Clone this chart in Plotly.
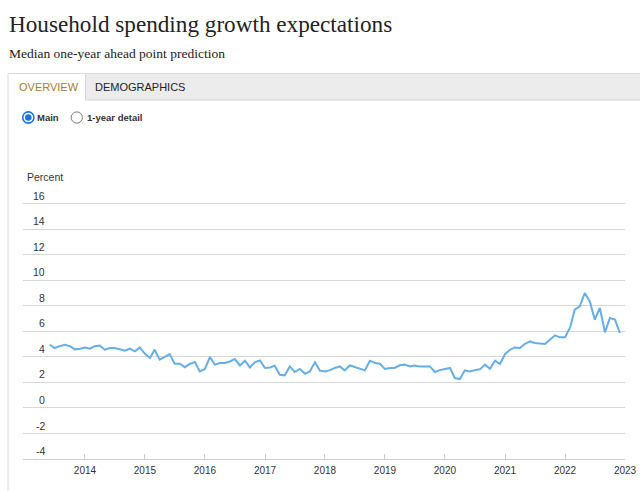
import pandas as pd
import plotly.graph_objects as go

# ---- data ----
start_month = "2013-06-01"
spending = [
    4.96, 4.70, 4.85, 4.96, 4.85, 4.60, 4.65,            # Jun-Dec 2013
    4.75, 4.65, 4.85, 4.90, 4.57, 4.70, 4.70, 4.60, 4.50, 4.65, 4.44, 4.75,   # 2014
    4.25, 3.92, 4.57, 3.79, 4.00, 4.23, 3.47, 3.47, 3.20, 3.45, 3.60, 2.87,   # 2015
    3.06, 4.00, 3.40, 3.53, 3.53, 3.65, 3.84, 3.34, 3.71, 3.18, 3.60, 3.73,   # 2016
    3.14, 3.18, 3.32, 2.61, 2.56, 3.26, 2.82, 3.06, 2.69, 2.87, 3.58, 2.93,   # 2017
    2.87, 2.97, 3.14, 3.26, 2.95, 3.34, 3.22, 3.10, 2.95, 3.71, 3.53, 3.47,   # 2018
    3.06, 3.14, 3.14, 3.35, 3.40, 3.26, 3.34, 3.26, 3.26, 3.26, 2.82, 2.97,   # 2019
    3.06, 3.14, 2.35, 2.27, 2.95, 2.87, 2.97, 3.03, 3.40, 3.08, 3.71, 3.45,   # 2020
    4.24, 4.57, 4.75, 4.70, 5.02, 5.22, 5.10, 5.05, 5.02, 5.36, 5.70, 5.54,   # 2021
    5.54, 6.32, 7.71, 7.97, 9.02, 8.36, 6.93, 7.84, 5.93, 7.06, 6.93, 5.88,   # 2022
]
months = pd.date_range(start_month, periods=len(spending), freq="MS")

y_ticks = [-4, -2, 0, 2, 4, 6, 8, 10, 12, 14, 16]
x_tick_years = [2014, 2015, 2016, 2017, 2018, 2019, 2020, 2021, 2022, 2023]
x_tick_dates = [f"{y}-01-01" for y in x_tick_years]
x_tick_text = [str(y) for y in x_tick_years]

title_text = "Household spending growth expectations"
subtitle_text = "Median one-year ahead point prediction"
tab_labels = ["OVERVIEW", "DEMOGRAPHICS"]
radio_labels = ["Main", "1-year detail"]
y_title = "Percent"

# ---- layout geometry (pixels) ----
W, H = 640, 491
ML, MR, MT, MB = 23, 15, 199, 32
PW = W - ML - MR
PH = H - MT - MB


def px(xp):
    return (xp - ML) / PW


def py(yp):
    return (H - MB - yp) / PH


SANS = "Liberation Sans, Arial, sans-serif"
SERIF = "Liberation Serif, Times New Roman, serif"

fig = go.Figure()
fig.add_trace(go.Scatter(
    x=months, y=spending, mode="lines",
    line=dict(color="#66aee6", width=2),
    hoverinfo="x+y", showlegend=False,
))

shapes = []
# tab bar background
shapes.append(dict(type="rect", xref="paper", yref="paper",
                   x0=px(85), x1=px(640), y0=py(100), y1=py(73),
                   fillcolor="#ececec", line=dict(width=0), layer="below"))
# top border of tab bar
shapes.append(dict(type="line", xref="paper", yref="paper",
                   x0=px(8), x1=px(640), y0=py(73.5), y1=py(73.5),
                   line=dict(color="#dadada", width=1)))
# bottom border of tab bar
shapes.append(dict(type="line", xref="paper", yref="paper",
                   x0=px(85), x1=px(640), y0=py(100), y1=py(100),
                   line=dict(color="#d4d4d4", width=1)))
# active tab right border
shapes.append(dict(type="line", xref="paper", yref="paper",
                   x0=px(85.5), x1=px(85.5), y0=py(73.5), y1=py(100),
                   line=dict(color="#d4d4d4", width=1)))
# panel left border
shapes.append(dict(type="line", xref="paper", yref="paper",
                   x0=px(8), x1=px(8), y0=py(73.5), y1=py(491),
                   line=dict(color="#dadada", width=1)))


def circle(cx, cy, r, **kw):
    d = dict(type="circle", xref="paper", yref="paper",
             x0=px(cx - r), x1=px(cx + r), y0=py(cy + r), y1=py(cy - r))
    d.update(kw)
    return d


# checked radio
shapes.append(circle(28.3, 117.5, 5.6, fillcolor="white",
                     line=dict(color="#1a73e8", width=1.6)))
shapes.append(circle(28.3, 117.5, 3.3, fillcolor="#1a73e8",
                     line=dict(width=0)))
# unchecked radio
shapes.append(circle(76.8, 117.5, 5.6, fillcolor="white",
                     line=dict(color="#767676", width=1)))

annotations = []
annotations.append(dict(text=title_text, xref="paper", yref="paper",
                        x=px(7), y=py(24), xanchor="left", yanchor="middle",
                        showarrow=False,
                        font=dict(family=SERIF, size=23.2, color="#222222")))
annotations.append(dict(text=subtitle_text, xref="paper", yref="paper",
                        x=px(7), y=py(53.5), xanchor="left", yanchor="middle",
                        showarrow=False,
                        font=dict(family=SERIF, size=13.5, color="#222222")))
annotations.append(dict(text=tab_labels[0], xref="paper", yref="paper",
                        x=px(16.7), y=py(87), xanchor="left", yanchor="middle",
                        showarrow=False,
                        font=dict(family=SANS, size=11, color="#a67c2e")))
annotations.append(dict(text=tab_labels[1], xref="paper", yref="paper",
                        x=px(93.3), y=py(87), xanchor="left", yanchor="middle",
                        showarrow=False,
                        font=dict(family=SANS, size=11, color="#222222")))
annotations.append(dict(text="<b>" + radio_labels[0] + "</b>", xref="paper", yref="paper",
                        x=px(34.7), y=py(117.5), xanchor="left", yanchor="middle",
                        showarrow=False,
                        font=dict(family=SANS, size=9.5, color="#333333")))
annotations.append(dict(text="<b>" + radio_labels[1] + "</b>", xref="paper", yref="paper",
                        x=px(85), y=py(117.5), xanchor="left", yanchor="middle",
                        showarrow=False,
                        font=dict(family=SANS, size=9.5, color="#333333")))
annotations.append(dict(text=y_title, xref="paper", yref="paper",
                        x=px(25), y=py(177), xanchor="left", yanchor="middle",
                        showarrow=False,
                        font=dict(family=SANS, size=10.5, color="#333333")))
for v in y_ticks:
    annotations.append(dict(text=str(v), xref="paper", yref="y",
                            x=px(46.5), y=v, xanchor="right", yanchor="bottom",
                            yshift=0, showarrow=False,
                            font=dict(family=SANS, size=10.5, color="#333333")))

fig.update_layout(
    width=W, height=H, autosize=False,
    margin=dict(l=ML, r=MR, t=MT, b=MB, pad=0, autoexpand=False),
    paper_bgcolor="white", plot_bgcolor="white",
    showlegend=False,
    shapes=shapes,
    annotations=annotations,
    xaxis=dict(
        type="date",
        range=["2012-12-20", "2023-01-01"],
        tickmode="array", tickvals=x_tick_dates, ticktext=x_tick_text,
        ticks="inside", ticklen=5, tickcolor="#cccccc", tickwidth=1,
        showline=True, linecolor="#cccccc", linewidth=1,
        showgrid=False, zeroline=False,
        tickfont=dict(family=SANS, size=10, color="#333333"),
        ticklabelstandoff=2,
        automargin=False,
        fixedrange=True,
    ),
    yaxis=dict(
        range=[-4, 16.39],
        tickmode="array", tickvals=y_ticks,
        showticklabels=False,
        showgrid=True, gridcolor="#d6d6d6", gridwidth=1,
        zeroline=False, showline=False,
        automargin=False,
        fixedrange=True,
    ),
)

fig.write_html(
    "out.html",
    config={"displayModeBar": False, "responsive": False},
    post_script="document.body.style.margin='0';document.body.style.overflow='hidden';",
)
